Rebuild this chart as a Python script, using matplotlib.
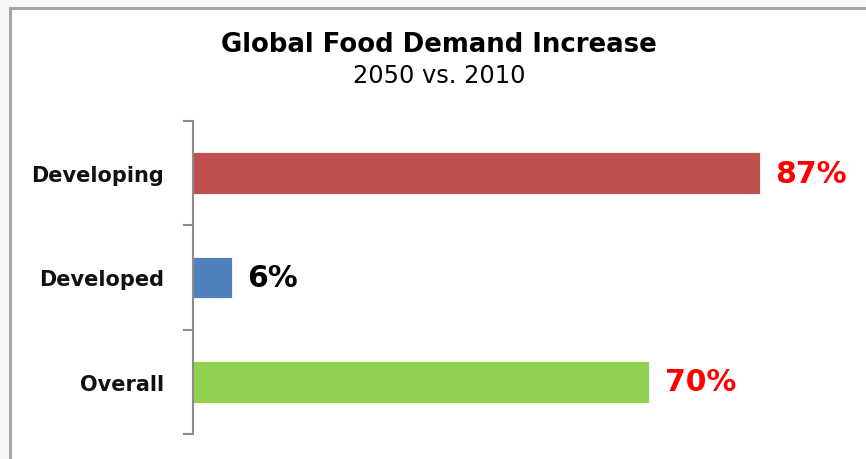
import matplotlib
matplotlib.use("Agg")
import matplotlib.pyplot as plt
from matplotlib.patches import Rectangle

# Data
categories = ["Overall", "Developed", "Developing"]
values = [70, 6, 87]
bar_colors = ["#92d050", "#4f81bd", "#c0504d"]
label_colors = ["#ff0000", "#000000", "#ff0000"]
title = "Global Food Demand Increase"
subtitle = "2050 vs. 2010"

W, H, DPI = 866, 460, 100
fig = plt.figure(figsize=(W / DPI, H / DPI), dpi=DPI)
fig.patch.set_facecolor("#f8f8f8")

# White chart panel with a grey frame
panel = Rectangle((10 / W, -0.05), 1.1, 1 - 9 / H + 0.05,
                  transform=fig.transFigure, facecolor="white",
                  edgecolor="#a6a6a6", linewidth=2.2, zorder=-5)
fig.patches.append(panel)

ax = fig.add_axes([193 / W, 1 - 435 / H, 652 / W, (435 - 122) / H])
ax.set_facecolor("none")
ax.set_zorder(2)

y = list(range(len(categories)))
ax.barh(y, values, height=0.40, color=bar_colors,
        edgecolor="#ffffff", linewidth=0.6)

ax.set_xlim(0, 100)
ax.set_ylim(-0.5, len(categories) - 0.5)

for yi, v, c in zip(y, values, label_colors):
    ax.annotate(f"{v}%", xy=(v, yi), xytext=(11, 0), textcoords="offset points",
                ha="left", va="center", fontsize=21.5, fontweight="bold",
                color=c, family="DejaVu Sans")

# Axis styling: only the left spine, ticks between categories
for s in ["top", "right", "bottom"]:
    ax.spines[s].set_visible(False)
ax.spines["left"].set_color("#8c8c8c")
ax.spines["left"].set_linewidth(1.5)
ax.set_xticks([])
ax.set_yticks([i - 0.5 for i in range(len(categories) + 1)])
ax.set_yticklabels([])
ax.tick_params(axis="y", which="major", length=7, width=1.5, color="#8c8c8c",
               direction="out")
ax.set_yticks(y, minor=True)
ax.set_yticklabels(categories, minor=True, fontsize=15, fontweight="bold",
                   family="DejaVu Sans", color="#111111")
ax.tick_params(axis="y", which="minor", length=0, pad=21)

fig.text(439 / W, 1 - 45 / H, title, ha="center", va="center",
         fontsize=18.7, fontweight="bold", family="DejaVu Sans",
         color="#000000")
fig.text(439 / W, 1 - 76 / H, subtitle, ha="center", va="center",
         fontsize=17.3, family="DejaVu Sans", color="#000000")

fig.savefig("out.png", dpi=DPI, facecolor=fig.get_facecolor())
